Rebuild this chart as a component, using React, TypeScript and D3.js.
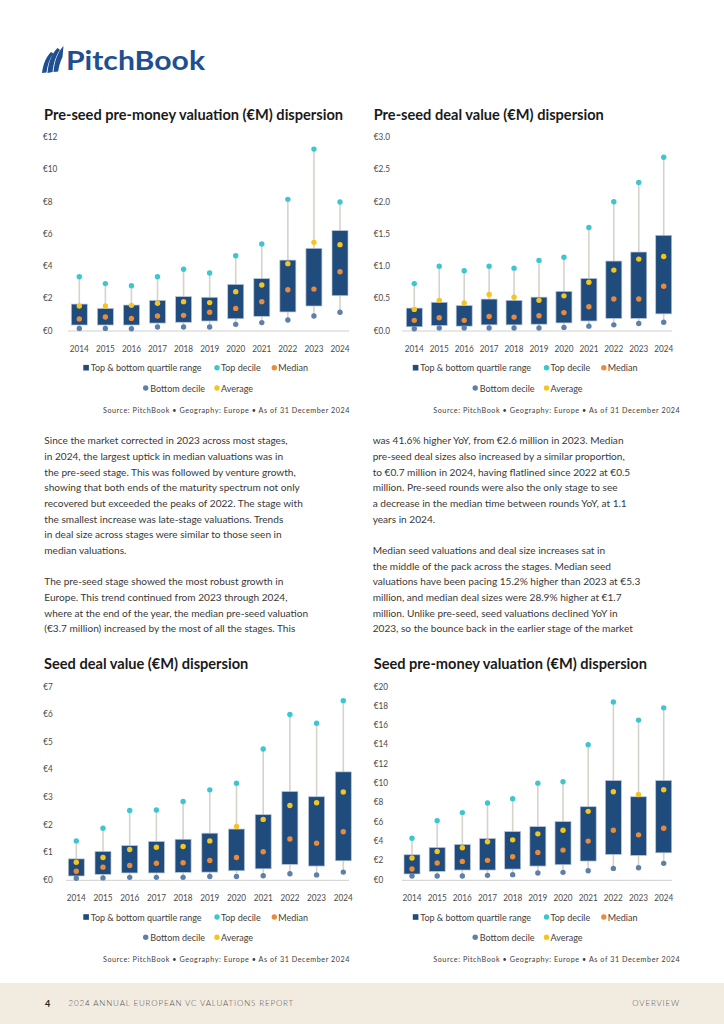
import * as d3 from 'd3'

const years = ['2014', '2015', '2016', '2017', '2018', '2019', '2020', '2021', '2022', '2023', '2024']

// Pre-seed pre-money valuation (€M)
const psValBottom = [0.1, 0.1, 0.08, 0.19, 0.19, 0.19, 0.35, 0.46, 0.62, 0.87, 1.1]
const psValQ1 = [0.31, 0.31, 0.31, 0.43, 0.48, 0.56, 0.7, 0.85, 1.12, 1.49, 2.13]
const psValMedian = [0.68, 0.81, 0.72, 0.87, 0.91, 1.1, 1.34, 1.76, 2.5, 2.54, 3.62]
const psValQ3 = [1.61, 1.34, 1.55, 1.84, 2.07, 2.03, 2.83, 3.19, 4.34, 5.07, 6.17]
const psValTop = [3.31, 2.88, 2.75, 3.31, 3.77, 3.54, 4.61, 5.34, 8.11, 11.23, 7.95]
const psValAvg = [1.49, 1.49, 1.53, 1.66, 1.76, 1.7, 2.38, 2.79, 4.12, 5.44, 5.3]
const psValTicks = [0, 2, 4, 6, 8, 10, 12]

// Pre-seed deal value (€M)
const psDealBottom = [0.02, 0.03, 0.03, 0.03, 0.03, 0.03, 0.04, 0.06, 0.08, 0.1, 0.12]
const psDealQ1 = [0.05, 0.07, 0.06, 0.08, 0.08, 0.09, 0.11, 0.14, 0.18, 0.18, 0.25]
const psDealMedian = [0.15, 0.19, 0.15, 0.21, 0.2, 0.22, 0.27, 0.36, 0.48, 0.48, 0.68]
const psDealQ3 = [0.34, 0.43, 0.38, 0.48, 0.46, 0.51, 0.6, 0.8, 1.07, 1.21, 1.47]
const psDealTop = [0.72, 0.99, 0.92, 0.99, 0.96, 1.08, 1.13, 1.59, 1.99, 2.29, 2.68]
const psDealAvg = [0.32, 0.46, 0.42, 0.55, 0.51, 0.46, 0.53, 0.74, 0.93, 1.1, 1.14]
const psDealTicks = [0, 0.5, 1, 1.5, 2, 2.5, 3]

// Seed deal value (€M)
const sDealBottom = [0.04, 0.05, 0.07, 0.07, 0.07, 0.1, 0.1, 0.13, 0.2, 0.16, 0.26]
const sDealQ1 = [0.12, 0.18, 0.23, 0.23, 0.25, 0.26, 0.31, 0.38, 0.54, 0.48, 0.67]
const sDealMedian = [0.29, 0.44, 0.5, 0.58, 0.6, 0.68, 0.79, 1.0, 1.46, 1.31, 1.72]
const sDealQ3 = [0.74, 1.01, 1.22, 1.37, 1.45, 1.67, 1.82, 2.34, 3.18, 2.99, 3.89]
const sDealTop = [1.39, 1.85, 2.49, 2.51, 2.82, 3.24, 3.48, 4.72, 5.97, 5.65, 6.47]
const sDealAvg = [0.62, 0.79, 1.08, 1.16, 1.19, 1.39, 1.91, 2.17, 2.67, 2.77, 3.16]
const sDealTicks = [0, 1, 2, 3, 4, 5, 6, 7]

// Seed pre-money valuation (€M)
const sValBottom = [0.34, 0.34, 0.34, 0.41, 0.48, 0.65, 0.72, 0.89, 1.13, 1.2, 1.65]
const sValQ1 = [0.55, 0.82, 0.96, 0.96, 1.06, 1.37, 1.51, 1.89, 2.57, 2.47, 2.74]
const sValMedian = [1.06, 1.68, 1.85, 1.96, 2.33, 2.78, 3.02, 3.95, 5.08, 4.6, 5.28]
const sValQ3 = [2.54, 3.29, 3.6, 4.22, 4.94, 5.45, 5.97, 7.51, 10.22, 8.54, 10.22]
const sValTop = [4.25, 6.07, 6.9, 7.89, 8.34, 9.95, 10.09, 13.93, 18.35, 16.47, 17.74]
const sValAvg = [2.2, 2.88, 3.26, 3.88, 4.08, 4.7, 5.08, 7.03, 9.06, 8.78, 9.26]
const sValTicks = [0, 2, 4, 6, 8, 10, 12, 14, 16, 18, 20]

const leftText = [
  'Since the market corrected in 2023 across most stages,',
  'in 2024, the largest uptick in median valuations was in',
  'the pre-seed stage. This was followed by venture growth,',
  'showing that both ends of the maturity spectrum not only',
  'recovered but exceeded the peaks of 2022. The stage with',
  'the smallest increase was late-stage valuations. Trends',
  'in deal size across stages were similar to those seen in',
  'median valuations.',
  '',
  'The pre-seed stage showed the most robust growth in',
  'Europe. This trend continued from 2023 through 2024,',
  'where at the end of the year, the median pre-seed valuation',
  '(€3.7 million) increased by the most of all the stages. This',
]

const rightText = [
  'was 41.6% higher YoY, from €2.6 million in 2023. Median',
  'pre-seed deal sizes also increased by a similar proportion,',
  'to €0.7 million in 2024, having flatlined since 2022 at €0.5',
  'million. Pre-seed rounds were also the only stage to see',
  'a decrease in the median time between rounds YoY, at 1.1',
  'years in 2024.',
  '',
  'Median seed valuations and deal size increases sat in',
  'the middle of the pack across the stages. Median seed',
  'valuations have been pacing 15.2% higher than 2023 at €5.3',
  'million, and median deal sizes were 28.9% higher at €1.7',
  'million. Unlike pre-seed, seed valuations declined YoY in',
  '2023, so the bounce back in the earlier stage of the market',
]

const COLORS = {
  box: '#1f4c7c',
  boxStroke: '#b9c6d6',
  whisker: '#d6d3cd',
  top: '#3cc6cf',
  median: '#e98b3a',
  bottom: '#5e80a8',
  avg: '#f6c51b',
  axis: '#cfcfcf',
  tick: '#4a4a4a',
}

const FONT = 'Lato, "Open Sans", sans-serif'

interface Series {
  bottom: number[]
  q1: number[]
  median: number[]
  q3: number[]
  top: number[]
  avg: number[]
}

interface ChartProps {
  title: string
  series: Series
  ticks: number[]
  decimals: number
  dy: number
  titleX: number
  labelX: number
  axisX0: number
  axisX1: number
  firstX: number
  lastX: number
  legendDx: number
  sourceRight: number
}

// condensed-looking text (ticks, legend)
function NarrowText({ x, y, anchor = 'start', sx = 0.82, fill = COLORS.tick, children }:
  { x: number; y: number; anchor?: string; sx?: number; fill?: string; children: any }) {
  return (
    <text transform={`translate(${x},${y}) scale(${sx},1)`} dy="0.35em" textAnchor={anchor}
      fontFamily={FONT} fontWeight={400} fontSize={10} fill={fill}>
      {children}
    </text>
  )
}

function DispersionChart(p: ChartProps) {
  const y0 = 330 + p.dy
  const yTop = 136.7 + p.dy
  const y = d3.scaleLinear()
    .domain([0, d3.max(p.ticks) as number])
    .range([y0, yTop])
  const x = d3.scalePoint<string>()
    .domain(years)
    .range([p.firstX, p.lastX])
  const fmt = d3.format(`.${p.decimals}f`)
  const boxW = 16
  const r = 2.7
  const s = p.series

  const ly1 = 367.7 + p.dy
  const ly2 = 388 + p.dy
  const lx = p.legendDx
  const lg = '#404040'

  return (
    <g>
      <text x={p.titleX} y={120 + p.dy} fontFamily={FONT} fontWeight={700} fontSize={14.6} fill="#1a1a1a">
        {p.title}
      </text>

      {p.ticks.map((t) => (
        <NarrowText key={t} x={p.labelX} y={y(t)}>€{fmt(t)}</NarrowText>
      ))}

      <line x1={p.axisX0} x2={p.axisX1} y1={y0 + 1} y2={y0 + 1} stroke={COLORS.axis} strokeWidth={1} />

      {years.map((yr, i) => {
        const cx = x(yr) as number
        return (
          <g key={yr}>
            <line x1={cx} x2={cx} y1={y(s.bottom[i])} y2={y(s.top[i])} stroke={COLORS.whisker} strokeWidth={1.6} />
            <rect x={cx - boxW / 2} y={y(s.q3[i])} width={boxW} height={y(s.q1[i]) - y(s.q3[i])}
              fill={COLORS.box} stroke={COLORS.boxStroke} strokeWidth={0.7} />
            <circle cx={cx} cy={y(s.bottom[i])} r={r} fill={COLORS.bottom} />
            <circle cx={cx} cy={y(s.median[i])} r={r} fill={COLORS.median} />
            <circle cx={cx} cy={y(s.avg[i])} r={r} fill={COLORS.avg} />
            <circle cx={cx} cy={y(s.top[i])} r={r} fill={COLORS.top} />
            <NarrowText x={cx} y={y0 + 18} anchor="middle">{yr}</NarrowText>
          </g>
        )
      })}

      {/* Legend */}
      <rect x={83.3 + lx} y={ly1 - 2.8} width={5.6} height={5.6} fill={COLORS.box} />
      <NarrowText x={90.7 + lx} y={ly1} sx={0.9} fill={lg}>Top &amp; bottom quartile range</NarrowText>
      <circle cx={217 + lx} cy={ly1} r={r} fill={COLORS.top} />
      <NarrowText x={221 + lx} y={ly1} sx={0.9} fill={lg}>Top decile</NarrowText>
      <circle cx={274.3 + lx} cy={ly1} r={r} fill={COLORS.median} />
      <NarrowText x={278.3 + lx} y={ly1} sx={0.9} fill={lg}>Median</NarrowText>
      <circle cx={145.7 + lx} cy={ly2} r={r} fill={COLORS.bottom} />
      <NarrowText x={150.3 + lx} y={ly2} sx={0.9} fill={lg}>Bottom decile</NarrowText>
      <circle cx={217 + lx} cy={ly2} r={r} fill={COLORS.avg} />
      <NarrowText x={221 + lx} y={ly2} sx={0.9} fill={lg}>Average</NarrowText>

      <text x={p.sourceRight} y={410.5 + p.dy} dy="0.35em" textAnchor="end" fontFamily={FONT}
        fontSize={7.2} letterSpacing={0.55} fill="#404040">
        Source: PitchBook  •  Geography: Europe  •  As of 31 December 2024
      </text>
    </g>
  )
}

function Logo() {
  return (
    <g>
      <path d="M42,73 C43,64 46,57 51,52 L53.5,53.5 C49.5,58.5 47.5,65 46.5,72.5 Z" fill="#1d4f91" />
      <path d="M47.5,73 C48.5,62 51.5,54 57.5,48 L60,50 C55.5,56 53.5,64 52.5,72 Z" fill="#1d4f91" />
      <path d="M53.5,72 C54.5,61 57.5,52.5 63.5,46 L62.5,57 C60,62 58.8,67 58.2,71.5 Z" fill="#1d4f91" />
      <text x={66} y={70} fontFamily={FONT} fontWeight={700} fontSize={27.5} fill="#1d4f91"
        textLength={139} lengthAdjust="spacingAndGlyphs">
        PitchBook
      </text>
    </g>
  )
}

export default function App() {
  const lineH = 15.67
  return (
    <svg width={724} height={1024} viewBox="0 0 724 1024"
      style={{ position: 'absolute', left: 0, top: 0, display: 'block', background: '#ffffff' }}>
      <rect width={724} height={1024} fill="#ffffff" />
      <Logo />

      <DispersionChart
        title="Pre-seed pre-money valuation (€M) dispersion"
        series={{ bottom: psValBottom, q1: psValQ1, median: psValMedian, q3: psValQ3, top: psValTop, avg: psValAvg }}
        ticks={psValTicks} decimals={0} dy={0}
        titleX={44} labelX={43} axisX0={68} axisX1={349} firstX={79.3} lastX={340}
        legendDx={0} sourceRight={350}
      />
      <DispersionChart
        title="Pre-seed deal value (€M) dispersion"
        series={{ bottom: psDealBottom, q1: psDealQ1, median: psDealMedian, q3: psDealQ3, top: psDealTop, avg: psDealAvg }}
        ticks={psDealTicks} decimals={1} dy={0}
        titleX={373.7} labelX={373.7} axisX0={402} axisX1={672} firstX={414.3} lastX={663.7}
        legendDx={329.5} sourceRight={680.3}
      />
      <DispersionChart
        title="Seed deal value (€M) dispersion"
        series={{ bottom: sDealBottom, q1: sDealQ1, median: sDealMedian, q3: sDealQ3, top: sDealTop, avg: sDealAvg }}
        ticks={sDealTicks} decimals={0} dy={549.3}
        titleX={44} labelX={43.3} axisX0={66} axisX1={349} firstX={76.3} lastX={343.3}
        legendDx={0} sourceRight={350}
      />
      <DispersionChart
        title="Seed pre-money valuation (€M) dispersion"
        series={{ bottom: sValBottom, q1: sValQ1, median: sValMedian, q3: sValQ3, top: sValTop, avg: sValAvg }}
        ticks={sValTicks} decimals={0} dy={549.3}
        titleX={373.7} labelX={373.7} axisX0={402} axisX1={672} firstX={412} lastX={663.7}
        legendDx={329.5} sourceRight={680.3}
      />

      <g fontFamily={FONT} fontSize={10.1} fill="#383838">
        {leftText.map((t, i) => (
          <text key={`l${i}`} x={44.3} y={440.7 + i * lineH} dy="0.35em">{t}</text>
        ))}
        {rightText.map((t, i) => (
          <text key={`r${i}`} x={372.7} y={440.7 + i * lineH} dy="0.35em">{t}</text>
        ))}
      </g>

      {/* Footer */}
      <rect x={0} y={983} width={724} height={41} fill="#f1ebe0" />
      <text x={45} y={1003.5} dy="0.35em" fontFamily={FONT} fontWeight={700} fontSize={9} fill="#222">4</text>
      <text x={68.5} y={1003.5} dy="0.35em" fontFamily={FONT} fontWeight={300} fontSize={8}
        letterSpacing={0.85} fill="#555">
        2024 ANNUAL EUROPEAN VC VALUATIONS REPORT
      </text>
      <text x={680} y={1003.5} dy="0.35em" textAnchor="end" fontFamily={FONT} fontWeight={300}
        fontSize={8} letterSpacing={0.85} fill="#555">
        OVERVIEW
      </text>
    </svg>
  )
}
